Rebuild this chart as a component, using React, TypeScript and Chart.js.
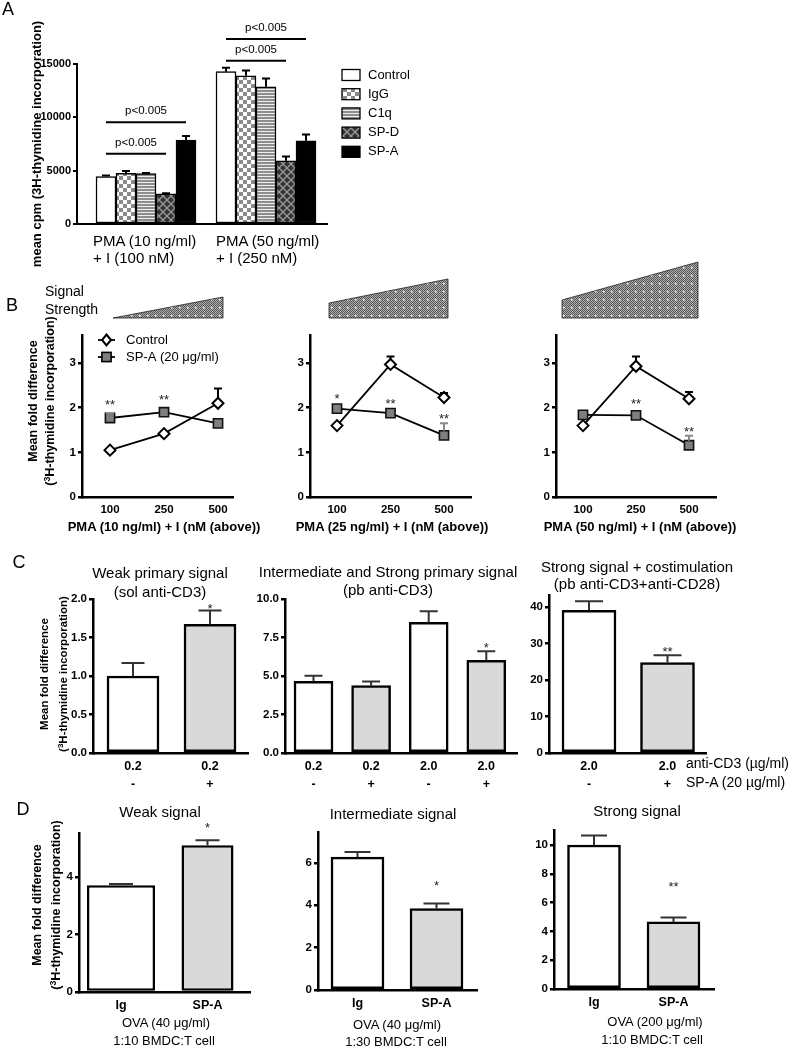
import React, { useEffect, useRef } from 'react';
import { Chart, registerables } from 'chart.js';
Chart.register(...registerables);

const FONT = "'Liberation Sans', Arial, Helvetica, sans-serif";

// ---------------- Panel A data ----------------
const aSeriesNames = ['Control', 'IgG', 'C1q', 'SP-D', 'SP-A'];
const aGroupLine1 = ['PMA (10 ng/ml)', 'PMA (50 ng/ml)'];
const aGroupLine2 = ['+ I (100 nM)', '+ I (250 nM)'];
const aControl = [4450, 14280];
const aIgG = [4760, 13900];
const aC1q = [4730, 12870];
const aSPD = [2820, 5920];
const aSPA = [7860, 7800];
const aControlErr = [90, 380];
const aIgGErr = [220, 480];
const aC1qErr = [60, 780];
const aSPDErr = [60, 410];
const aSPAErr = [380, 590];
const aYTicks = [0, 5000, 10000, 15000];
const aSigGroup = [0, 0, 1, 1];
const aSigFrom = [0, 0, 0, 0];
const aSigTo = [3, 4, 3, 4];
const aSigLevel = [6580, 9550, 15310, 17350];
const aSigText = ['p<0.005', 'p<0.005', 'p<0.005', 'p<0.005'];

// ---------------- Panel B data ----------------
const bDoses = ['100', '250', '500'];
const bYTicks = [0, 1, 2, 3];
const bLegend = ['Control', 'SP-A (20 μg/ml)'];
const b1Control = [1.05, 1.42, 2.1];
const b1ControlErr = [null, null, 0.33];
const b1SPA = [1.77, 1.9, 1.65];
const b1SPAErr = [0.1, null, null];
const b1Stars = ['**', '**', null];
const b1StarAt = [2.13, 2.24, null];
const b2Control = [1.6, 2.97, 2.23];
const b2ControlErr = [null, 0.18, 0.1];
const b2SPA = [1.98, 1.88, 1.38];
const b2SPAErr = [null, null, 0.27];
const b2Stars = ['*', '**', '**'];
const b2StarAt = [2.28, 2.17, 1.83];
const b3Control = [1.6, 2.93, 2.2];
const b3ControlErr = [null, 0.22, 0.15];
const b3SPA = [1.84, 1.83, 1.16];
const b3SPAErr = [null, null, 0.21];
const b3Stars = [null, '**', '**'];
const b3StarAt = [null, 2.15, 1.54];
const bXTitles = ['PMA (10 ng/ml) + I (nM (above))', 'PMA (25 ng/ml) + I (nM (above))', 'PMA (50 ng/ml) + I (nM (above))'];

// ---------------- Panel C data ----------------
const c1Labels = [['0.2', '-'], ['0.2', '+']];
const c1Values = [1.0, 1.67];
const c1Err = [0.17, 0.18];
const c1SPA = [false, true];
const c1YTicks = [0, 0.5, 1, 1.5, 2];
const c1Stars = [null, '*'];
const c1StarAt = [null, 1.91];
const c2Labels = [['0.2', '-'], ['0.2', '+'], ['2.0', '-'], ['2.0', '+']];
const c2Values = [4.65, 4.37, 8.48, 6.02];
const c2Err = [0.37, 0.28, 0.72, 0.58];
const c2SPA = [false, true, false, true];
const c2YTicks = [0, 2.5, 5, 7.5, 10];
const c2Stars = [null, null, null, '*'];
const c2StarAt = [null, null, null, 7.03];
const c3Labels = [['2.0', '-'], ['2.0', '+']];
const c3Values = [39.1, 24.8];
const c3Err = [2.5, 2.0];
const c3SPA = [false, true];
const c3YTicks = [0, 10, 20, 30, 40];
const c3Stars = [null, '**'];
const c3StarAt = [null, 28.6];

// ---------------- Panel D data ----------------
const dLabels = ['Ig', 'SP-A'];
const d1Values = [3.71, 5.1];
const d1Err = [0.05, 0.18];
const d1YTicks = [0, 2, 4];
const d1Stars = [null, '*'];
const d1StarAt = [null, 5.82];
const d2Values = [6.27, 3.85];
const d2Err = [0.25, 0.24];
const d2YTicks = [0, 2, 4, 6];
const d2Stars = [null, '*'];
const d2StarAt = [null, 5.09];
const d3Values = [10.0, 4.66];
const d3Err = [0.65, 0.31];
const d3YTicks = [0, 2, 4, 6, 8, 10];
const d3Stars = [null, '**'];
const d3StarAt = [null, 7.33];

// ---------------- layout ----------------
type Geo = { L: number; T: number; R: number; B: number; pt?: number; pr?: number };
const YW = 50;
const XH = 50;
const geoA: Geo = { L: 77, T: 64, R: 327, B: 224, pt: 52, pr: 100 };
const geoB1: Geo = { L: 82, T: 335, R: 233, B: 497 };
const geoB2: Geo = { L: 310, T: 335, R: 471, B: 497 };
const geoB3: Geo = { L: 556, T: 335, R: 716, B: 497 };
const geoC1: Geo = { L: 93, T: 599, R: 248, B: 753 };
const geoC2: Geo = { L: 285, T: 599, R: 517, B: 753 };
const geoC3: Geo = { L: 549, T: 595, R: 706, B: 753 };
const geoD1: Geo = { L: 79, T: 833, R: 250, B: 992 };
const geoD2: Geo = { L: 318, T: 832, R: 477, B: 990 };
const geoD3: Geo = { L: 554, T: 830, R: 714, B: 989 };

const xr = (g: Geo, c0: number, s: number) => ({ min: (g.L - c0) / s, max: (g.R - c0) / s });

const WHITE = '#ffffff';
const GRAY = '#d9d9d9';

function yScale(max: number, ticks: number[], fmt: (v: number) => string, size: number, bw: number) {
  return {
    type: 'linear',
    min: 0,
    max,
    afterBuildTicks: (s: any) => { s.ticks = ticks.map((v) => ({ value: v })); },
    ticks: { autoSkip: false, callback: (v: any) => fmt(Number(v)), font: { family: FONT, size, weight: 'bold' }, color: '#000', padding: 2 },
    grid: { display: true, drawOnChartArea: false, drawTicks: true, tickLength: 4, color: '#000', lineWidth: bw, offset: false },
    border: { display: true, color: '#000', width: bw },
  };
}

function xScale(range: { min: number; max: number }, labels: any[], size: number, bw: number, show = true) {
  return {
    type: 'linear',
    min: range.min,
    max: range.max,
    offset: false,
    afterBuildTicks: (s: any) => { s.ticks = labels.map((_: any, i: number) => ({ value: i })); },
    ticks: { display: show, autoSkip: false, maxRotation: 0, minRotation: 0, callback: (v: any) => labels[Math.round(Number(v))], font: { family: FONT, size, weight: 'bold', lineHeight: 1.4 }, color: '#000', padding: 5 },
    grid: { display: false, drawTicks: false, offset: false },
    border: { display: true, color: '#000', width: bw },
  };
}

const errorBarPlugin = {
  id: 'errbars',
  afterDatasetsDraw(chart: any) {
    const ctx = chart.ctx;
    const ys = chart.scales.y;
    chart.data.datasets.forEach((ds: any, di: number) => {
      if (!ds.errs) return;
      const meta = chart.getDatasetMeta(di);
      meta.data.forEach((el: any, i: number) => {
        const e = ds.errs[i];
        if (e == null) return;
        const v = ds.data[i].y;
        const yTop = ys.getPixelForValue(v + e);
        const yStart = el.y - (ds.errGap || 0);
        ctx.save();
        ctx.strokeStyle = ds.errColor || '#000';
        ctx.lineWidth = ds.errWidth || 2;
        ctx.beginPath();
        ctx.moveTo(el.x, yStart);
        ctx.lineTo(el.x, yTop);
        ctx.moveTo(el.x - ds.capW / 2, yTop);
        ctx.lineTo(el.x + ds.capW / 2, yTop);
        ctx.stroke();
        ctx.restore();
      });
    });
  },
};

const starPlugin = {
  id: 'stars',
  afterDraw(chart: any) {
    const ctx = chart.ctx;
    const ys = chart.scales.y;
    chart.data.datasets.forEach((ds: any, di: number) => {
      if (!ds.stars) return;
      const meta = chart.getDatasetMeta(di);
      meta.data.forEach((el: any, i: number) => {
        const s = ds.stars[i];
        if (!s) return;
        const fs = ds.starSize || 13;
        const y = ys.getPixelForValue(ds.starAt[i]);
        ctx.save();
        ctx.fillStyle = '#222';
        ctx.font = `${fs}px ${FONT}`;
        ctx.textAlign = 'center';
        ctx.textBaseline = 'alphabetic';
        ctx.fillText(s, el.x, y + fs * 0.57);
        ctx.restore();
      });
    });
  },
};

function makePattern(kind: string): any {
  const c = document.createElement('canvas');
  const g = c.getContext('2d')!;
  if (kind === 'check') {
    c.width = 8; c.height = 8;
    g.fillStyle = '#ffffff'; g.fillRect(0, 0, 8, 8);
    g.fillStyle = '#8a8a8a'; g.fillRect(0, 0, 4, 4); g.fillRect(4, 4, 4, 4);
  } else if (kind === 'hstripe') {
    c.width = 4; c.height = 3;
    g.fillStyle = '#ececec'; g.fillRect(0, 0, 4, 3);
    g.fillStyle = '#8e8e8e'; g.fillRect(0, 0, 4, 2);
  } else {
    c.width = 8; c.height = 8;
    g.fillStyle = '#333333'; g.fillRect(0, 0, 8, 8);
    g.strokeStyle = '#9a9a9a'; g.lineWidth = 1.3;
    g.beginPath();
    g.moveTo(0, 0); g.lineTo(8, 8);
    g.moveTo(8, 0); g.lineTo(0, 8);
    g.stroke();
  }
  return g.createPattern(c, 'repeat');
}

function ChartCanvas({ geo, make }: { geo: Geo; make: () => any }) {
  const ref = useRef<HTMLCanvasElement | null>(null);
  const pt = geo.pt ?? 30;
  const pr = geo.pr ?? 12;
  const left = geo.L - YW;
  const top = geo.T - pt;
  const width = geo.R - geo.L + YW + pr;
  const height = geo.B - geo.T + pt + XH;
  useEffect(() => {
    const cfg = make();
    cfg.options.animation = false;
    cfg.options.responsive = false;
    cfg.options.maintainAspectRatio = false;
    cfg.options.devicePixelRatio = 1;
    cfg.options.layout = { autoPadding: false, padding: { top: pt, right: pr, left: 0, bottom: 0 } };
    cfg.options.plugins = { legend: { display: false }, tooltip: { enabled: false }, title: { display: false } };
    cfg.options.scales.x.afterFit = (s: any) => { s.height = XH; };
    cfg.options.scales.y.afterFit = (s: any) => { s.width = YW; };
    const chart = new Chart(ref.current as HTMLCanvasElement, cfg);
    return () => chart.destroy();
  }, []);
  return <canvas ref={ref} width={width} height={height} style={{ position: 'absolute', left, top, width, height }} />;
}

// ---------------- chart builders ----------------
function makeA() {
  const fills = ['#ffffff', makePattern('check'), makePattern('hstripe'), makePattern('cross'), '#000000'];
  const values = [aControl, aIgG, aC1q, aSPD, aSPA];
  const errs = [aControlErr, aIgGErr, aC1qErr, aSPDErr, aSPAErr];
  const datasets = aSeriesNames.map((name, k) => ({
    label: name,
    data: values[k].map((v, i) => ({ x: i, y: v })),
    backgroundColor: fills[k],
    borderColor: '#000',
    borderWidth: 1.5,
    borderSkipped: false,
    barThickness: 20,
    errs: errs[k],
    errColor: '#000',
    capW: 8,
  }));
  const sigPlugin = {
    id: 'sigA',
    afterDraw(chart: any) {
      const ctx = chart.ctx;
      const ys = chart.scales.y;
      aSigLevel.forEach((lvl, k) => {
        const x1 = chart.getDatasetMeta(aSigFrom[k]).data[aSigGroup[k]].x;
        const x2 = chart.getDatasetMeta(aSigTo[k]).data[aSigGroup[k]].x;
        const y = ys.getPixelForValue(lvl);
        ctx.save();
        ctx.strokeStyle = '#000';
        ctx.lineWidth = 2;
        ctx.beginPath();
        ctx.moveTo(x1, y);
        ctx.lineTo(x2, y);
        ctx.stroke();
        ctx.fillStyle = '#000';
        ctx.font = `11.5px ${FONT}`;
        ctx.textAlign = 'center';
        ctx.textBaseline = 'middle';
        ctx.fillText(aSigText[k], (x1 + x2) / 2, y - 11);
        ctx.restore();
      });
      // legend
      const ca = chart.chartArea;
      aSeriesNames.forEach((name, k) => {
        const y = ca.top + 11 + k * 19.2;
        const x = ca.right + 15;
        ctx.save();
        ctx.fillStyle = fills[k];
        ctx.fillRect(x, y - 5.5, 18, 11);
        ctx.strokeStyle = '#000';
        ctx.lineWidth = 1.3;
        ctx.strokeRect(x, y - 5.5, 18, 11);
        ctx.fillStyle = '#000';
        ctx.font = `13px ${FONT}`;
        ctx.textAlign = 'left';
        ctx.textBaseline = 'middle';
        ctx.fillText(name, x + 26, y);
        ctx.restore();
      });
    },
  };
  return {
    type: 'bar',
    data: { datasets },
    options: {
      scales: {
        x: xScale(xr(geoA, 146, 120), [0, 1], 12, 2, false),
        y: yScale(15000, aYTicks, (v) => String(v), 11, 2),
      },
    },
    plugins: [errorBarPlugin, sigPlugin],
  };
}

function makeB(geo: Geo, c0: number, s: number, ctrl: number[], ctrlErr: any[], spa: number[], spaErr: any[], stars: any[], starAt: any[], legend: boolean) {
  const legendPlugin = {
    id: 'legendB',
    afterDraw(chart: any) {
      if (!legend) return;
      const ctx = chart.ctx;
      const ca = chart.chartArea;
      const x0 = ca.left + 16;
      const x1 = ca.left + 33;
      const xm = (x0 + x1) / 2;
      const rows = [ca.top + 5, ca.top + 22];
      ctx.save();
      ctx.strokeStyle = '#000';
      ctx.lineWidth = 1.8;
      rows.forEach((y) => { ctx.beginPath(); ctx.moveTo(x0, y); ctx.lineTo(x1, y); ctx.stroke(); });
      ctx.beginPath();
      ctx.moveTo(xm, rows[0] - 5.5); ctx.lineTo(xm + 4.5, rows[0]); ctx.lineTo(xm, rows[0] + 5.5); ctx.lineTo(xm - 4.5, rows[0]); ctx.closePath();
      ctx.fillStyle = '#fff'; ctx.fill(); ctx.lineWidth = 2; ctx.stroke();
      ctx.fillStyle = '#7f7f7f';
      ctx.fillRect(xm - 4.6, rows[1] - 4.6, 9.2, 9.2);
      ctx.lineWidth = 1.6;
      ctx.strokeRect(xm - 4.6, rows[1] - 4.6, 9.2, 9.2);
      ctx.fillStyle = '#000';
      ctx.font = `13px ${FONT}`;
      ctx.textAlign = 'left';
      ctx.textBaseline = 'middle';
      ctx.fillText(bLegend[0], ca.left + 44, rows[0]);
      ctx.fillText(bLegend[1], ca.left + 44, rows[1]);
      ctx.restore();
    },
  };
  return {
    type: 'line',
    data: {
      datasets: [
        {
          label: 'Control',
          data: ctrl.map((v, i) => ({ x: i, y: v })),
          borderColor: '#000', borderWidth: 1.8, tension: 0,
          pointStyle: 'rectRot', pointRadius: 5.5, pointBackgroundColor: '#fff', pointBorderColor: '#000', pointBorderWidth: 2,
          errs: ctrlErr, errColor: '#000', capW: 8, errGap: 5, clip: false,
        },
        {
          label: 'SP-A',
          data: spa.map((v, i) => ({ x: i, y: v })),
          borderColor: '#000', borderWidth: 1.8, tension: 0,
          pointStyle: 'rect', pointRadius: 6.5, pointBackgroundColor: '#7f7f7f', pointBorderColor: '#111', pointBorderWidth: 1.6,
          errs: spaErr, errColor: '#8a8a8a', capW: 8, errGap: 4.6, stars, starAt, starSize: 13, clip: false,
        },
      ],
    },
    options: {
      scales: {
        x: xScale(xr(geo, c0, s), bDoses, 11.5, 2.5),
        y: yScale(3.63, bYTicks, (v) => String(v), 11.5, 2.5),
      },
    },
    plugins: [errorBarPlugin, starPlugin, legendPlugin],
  };
}

function makeBars(geo: Geo, c0: number, s: number, labels: any[], values: number[], errs: number[], spa: boolean[], stars: any[], starAt: any[], yMax: number, yTicks: number[], fmt: (v: number) => string, thickness: number, capW: number, xFont: number) {
  return {
    type: 'bar',
    data: {
      datasets: [{
        data: values.map((v, i) => ({ x: i, y: v })),
        backgroundColor: spa.map((b) => (b ? GRAY : WHITE)),
        borderColor: '#000', borderWidth: 2.5, borderSkipped: false,
        barThickness: thickness,
        errs, errColor: '#333', capW, errWidth: 2,
        stars, starAt, starSize: 13,
      }],
    },
    options: {
      scales: {
        x: xScale(xr(geo, c0, s), labels, xFont, 2.5),
        y: yScale(yMax, yTicks, fmt, 11.5, 2.5),
      },
    },
    plugins: [errorBarPlugin, starPlugin],
  };
}

function makeD1() {
  const gap = 86.5;
  const widths = [68, 52];
  const datasets = d1Values.map((v, i) => ({
    data: [{ x: i, y: v }],
    backgroundColor: i === 0 ? WHITE : GRAY,
    borderColor: '#000', borderWidth: 2.5, borderSkipped: false,
    grouped: false, categoryPercentage: 1, barPercentage: widths[i] / gap,
    errs: [d1Err[i]], errColor: '#333', capW: 24,
    stars: [d1Stars[i]], starAt: [d1StarAt[i]], starSize: 13,
  }));
  return {
    type: 'bar',
    data: { datasets },
    options: {
      scales: {
        x: xScale(xr(geoD1, 121, gap), dLabels, 12.5, 2.5),
        y: yScale(5.53, d1YTicks, (v) => String(v), 11.5, 2.5),
      },
    },
    plugins: [errorBarPlugin, starPlugin],
  };
}

const f1 = (v: number) => v.toFixed(1);
const f0 = (v: number) => String(v);

// ---------------- text helpers ----------------
function Txt({ x, y, children, size = 13, bold = false, align = 'center', rot = false }: any) {
  const tx = align === 'center' ? '-50%' : '0';
  return (
    <div
      style={{
        position: 'absolute', left: x, top: y, whiteSpace: 'nowrap',
        transform: `translate(${tx}, -50%)${rot ? ' rotate(-90deg)' : ''}`,
        fontSize: size, fontWeight: bold ? 'bold' : 'normal', lineHeight: 1.15, fontFamily: FONT, color: '#000',
      }}
    >
      {children}
    </div>
  );
}

const Sup3 = () => <span style={{ fontSize: '0.7em', verticalAlign: '0.45em' }}>3</span>;

function Wedges() {
  const cells: any[] = [];
  for (let yy = 0; yy < 8; yy++) {
    for (let xx = 0; xx < 8; xx++) {
      if ((xx + yy) % 2 === 0) cells.push(<rect key={`${xx}-${yy}`} x={xx} y={yy} width={1} height={1} fill="#555555" />);
    }
  }
  return (
    <svg width={795} height={1048} style={{ position: 'absolute', left: 0, top: 0 }}>
      <defs>
        <pattern id="stip" width="8" height="8" patternUnits="userSpaceOnUse">
          <rect width="8" height="8" fill="#b0b0b0" />
          {cells}
          <rect x="3" y="3" width="1.5" height="1.5" fill="#ffffff" />
        </pattern>
      </defs>
      <polygon points="113,318 223,297 223,318" fill="url(#stip)" stroke="#222" strokeWidth="0.8" />
      <polygon points="329,318 329,303 448,279 448,318" fill="url(#stip)" stroke="#222" strokeWidth="0.8" />
      <polygon points="562,318 562,300 698,262 698,318" fill="url(#stip)" stroke="#222" strokeWidth="0.8" />
    </svg>
  );
}

export default function App() {
  return (
    <div style={{ position: 'absolute', left: 0, top: 0, width: 795, height: 1048, background: '#fff', overflow: 'hidden', fontFamily: FONT }}>
      <ChartCanvas geo={geoA} make={makeA} />
      <ChartCanvas geo={geoB1} make={() => makeB(geoB1, 110, 54, b1Control, b1ControlErr, b1SPA, b1SPAErr, b1Stars, b1StarAt, true)} />
      <ChartCanvas geo={geoB2} make={() => makeB(geoB2, 337, 53.5, b2Control, b2ControlErr, b2SPA, b2SPAErr, b2Stars, b2StarAt, false)} />
      <ChartCanvas geo={geoB3} make={() => makeB(geoB3, 583, 53, b3Control, b3ControlErr, b3SPA, b3SPAErr, b3Stars, b3StarAt, false)} />
      <ChartCanvas geo={geoC1} make={() => makeBars(geoC1, 133, 77, c1Labels, c1Values, c1Err, c1SPA, c1Stars, c1StarAt, 2.0, c1YTicks, f1, 52, 23, 12.5)} />
      <ChartCanvas geo={geoC2} make={() => makeBars(geoC2, 313.5, 57.6, c2Labels, c2Values, c2Err, c2SPA, c2Stars, c2StarAt, 10, c2YTicks, f1, 39, 18, 12.5)} />
      <ChartCanvas geo={geoC3} make={() => makeBars(geoC3, 589, 78.5, c3Labels, c3Values, c3Err, c3SPA, c3Stars, c3StarAt, 43.3, c3YTicks, f0, 54, 28, 12.5)} />
      <ChartCanvas geo={geoD1} make={makeD1} />
      <ChartCanvas geo={geoD2} make={() => makeBars(geoD2, 357.5, 79, dLabels, d2Values, d2Err, [false, true], d2Stars, d2StarAt, 7.46, d2YTicks, f0, 53, 26, 12.5)} />
      <ChartCanvas geo={geoD3} make={() => makeBars(geoD3, 594, 79.5, dLabels, d3Values, d3Err, [false, true], d3Stars, d3StarAt, 11.04, d3YTicks, f0, 53, 26, 12.5)} />
      <Wedges />

      {/* panel letters */}
      <Txt x={8} y={9} size={18}>A</Txt>
      <Txt x={12} y={305} size={18}>B</Txt>
      <Txt x={19} y={562} size={18}>C</Txt>
      <Txt x={23} y={809} size={18}>D</Txt>

      {/* Panel A */}
      <Txt x={37} y={144} size={13} bold rot>mean cpm (3H-thymidine incorporation)</Txt>
      <Txt x={93} y={241} size={15} align="left">{aGroupLine1[0]}</Txt>
      <Txt x={93} y={258} size={15} align="left">{aGroupLine2[0]}</Txt>
      <Txt x={216} y={241} size={15} align="left">{aGroupLine1[1]}</Txt>
      <Txt x={216} y={258} size={15} align="left">{aGroupLine2[1]}</Txt>

      {/* Panel B */}
      <Txt x={45} y={291} size={14} align="left">Signal</Txt>
      <Txt x={45} y={309} size={14} align="left">Strength</Txt>
      <Txt x={33} y={401} size={12.5} bold rot>Mean fold difference</Txt>
      <Txt x={50} y={401} size={12.5} bold rot>(<Sup3 />H-thymidine incorporation)</Txt>
      <Txt x={164} y={527} size={13} bold>{bXTitles[0]}</Txt>
      <Txt x={392} y={527} size={13} bold>{bXTitles[1]}</Txt>
      <Txt x={640} y={527} size={13} bold>{bXTitles[2]}</Txt>

      {/* Panel C */}
      <Txt x={45} y={674} size={11.5} bold rot>Mean fold difference</Txt>
      <Txt x={63} y={674} size={11.5} bold rot>(<Sup3 />H-thymidine incorporation)</Txt>
      <Txt x={160} y={573} size={15}>Weak primary signal</Txt>
      <Txt x={160} y={592} size={15}>(sol anti-CD3)</Txt>
      <Txt x={388} y={572} size={15}>Intermediate and Strong primary signal</Txt>
      <Txt x={388} y={590} size={15}>(pb anti-CD3)</Txt>
      <Txt x={637} y={567} size={15}>Strong signal + costimulation</Txt>
      <Txt x={637} y={584} size={15}>(pb anti-CD3+anti-CD28)</Txt>
      <Txt x={686} y={763} size={14} align="left">anti-CD3 (µg/ml)</Txt>
      <Txt x={686} y={782} size={14} align="left">SP-A (20 µg/ml)</Txt>

      {/* Panel D */}
      <Txt x={37} y={905} size={12.5} bold rot>Mean fold difference</Txt>
      <Txt x={56} y={905} size={12.5} bold rot>(<Sup3 />H-thymidine incorporation)</Txt>
      <Txt x={160} y={812} size={15}>Weak signal</Txt>
      <Txt x={393} y={814} size={15}>Intermediate signal</Txt>
      <Txt x={637} y={811} size={15}>Strong signal</Txt>
      <Txt x={166} y={1023} size={13}>OVA (40 μg/ml)</Txt>
      <Txt x={164} y={1041} size={13}>1:10 BMDC:T cell</Txt>
      <Txt x={397} y={1025} size={13}>OVA (40 μg/ml)</Txt>
      <Txt x={396} y={1042} size={13}>1:30 BMDC:T cell</Txt>
      <Txt x={655} y={1022} size={13}>OVA (200 μg/ml)</Txt>
      <Txt x={652} y={1040} size={13}>1:10 BMDC:T cell</Txt>
    </div>
  );
}
